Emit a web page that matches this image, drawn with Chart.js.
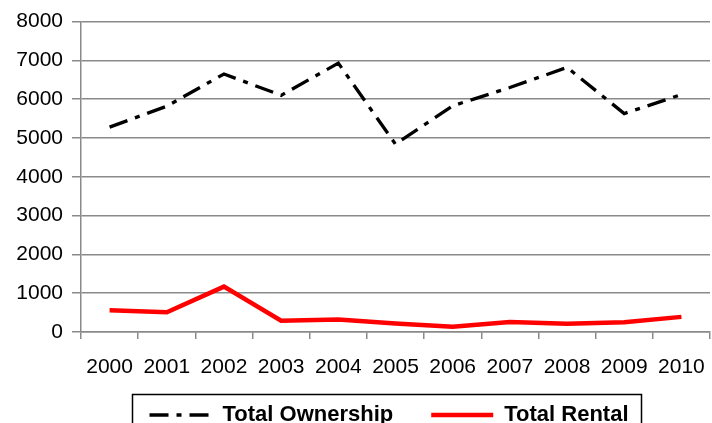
<!DOCTYPE html>
<html>
<head>
<meta charset="utf-8">
<script src="https://cdn.jsdelivr.net/npm/chart.js@4"></script>
<style>
  html, body { margin: 0; padding: 0; background: #fff; overflow: hidden; }
  #wrap { width: 712px; height: 446px; }
</style>
</head>
<body>
<div id="wrap"><canvas id="housingChart" width="712" height="446"></canvas></div>
<script>
const years = ["2000", "2001", "2002", "2003", "2004", "2005", "2006", "2007", "2008", "2009", "2010"];
const ownership = [5280, 5820, 6650, 6100, 6930, 4840, 5830, 6300, 6820, 5630, 6120];
const rental = [560, 510, 1170, 290, 320, 220, 135, 255, 215, 250, 390];
const yTicks = [0, 1000, 2000, 3000, 4000, 5000, 6000, 7000, 8000];

const gridGray = "#8a8a8a";
const font = "'Liberation Sans', Arial, sans-serif";

// frame round the legend, and move the legend where the original has it
const legendFrame = {
  id: "legendFrame",
  afterLayout(chart) {
    const lg = chart.legend;
    lg.left += 34;
    lg.right += 34;
    lg.top -= 10;
    lg.bottom -= 10;
  },
  afterDraw(chart) {
    const c = chart.ctx;
    c.save();
    c.strokeStyle = "#000";
    c.lineWidth = 1.5;
    c.strokeRect(132.5, 394.5, 509, 60);
    c.restore();
  }
};

const ctx = document.getElementById("housingChart").getContext("2d");

new Chart(ctx, {
  type: "line",
  data: {
    labels: years,
    datasets: [{
      label: "Total Ownership",
      data: ownership,
      borderColor: "#000",
      backgroundColor: "#000",
      borderWidth: 3.3,
      borderDash: [19, 8, 5, 8],
      pointRadius: 0,
      pointStyle: "line",
      tension: 0
    }, {
      label: "Total Rental",
      data: rental,
      borderColor: "#ff0000",
      backgroundColor: "#ff0000",
      borderWidth: 4.5,
      pointRadius: 0,
      pointStyle: "line",
      tension: 0
    }]
  },
  options: {
    responsive: false,
    animation: false,
    layout: { padding: { top: 18, right: 2, left: 0, bottom: 0 } },
    plugins: {
      tooltip: { enabled: false },
      legend: {
        position: "bottom",
        labels: {
          usePointStyle: true,
          pointStyleWidth: 62,
          padding: 38,
          color: "#000",
          font: { family: font, size: 22, weight: "bold" },
          generateLabels(chart) {
            return chart.data.datasets.map((ds, i) => ({
              text: ds.label,
              datasetIndex: i,
              pointStyle: "line",
              strokeStyle: ds.borderColor,
              fillStyle: ds.borderColor,
              lineWidth: ds.borderWidth,
              lineDash: ds.borderDash || [],
              hidden: false
            }));
          }
        }
      }
    },
    scales: {
      x: {
        offset: true,
        grid: { offset: true, drawOnChartArea: false, drawTicks: true, tickLength: 7, color: gridGray, lineWidth: 1.5 },
        border: { color: gridGray, width: 1.5 },
        ticks: {
          padding: 16,
          maxRotation: 0,
          color: "#000",
          font: { family: font, size: 21 }
        },
        afterFit(s) {
          s.height = 44;
          s.paddingLeft = 0;
          s.paddingRight = 0;
        }
      },
      y: {
        min: 0,
        max: 8000,
        afterBuildTicks(s) { s.ticks = yTicks.map(v => ({ value: v })); },
        grid: { color: gridGray, lineWidth: 1.5, tickLength: 9 },
        border: { color: gridGray, width: 1.5 },
        ticks: {
          padding: 9,
          color: "#000",
          font: { family: font, size: 21 },
          callback: v => String(v)
        },
        afterFit(s) { s.width = 81; }
      }
    }
  },
  plugins: [legendFrame]
});
</script>
</body>
</html>
